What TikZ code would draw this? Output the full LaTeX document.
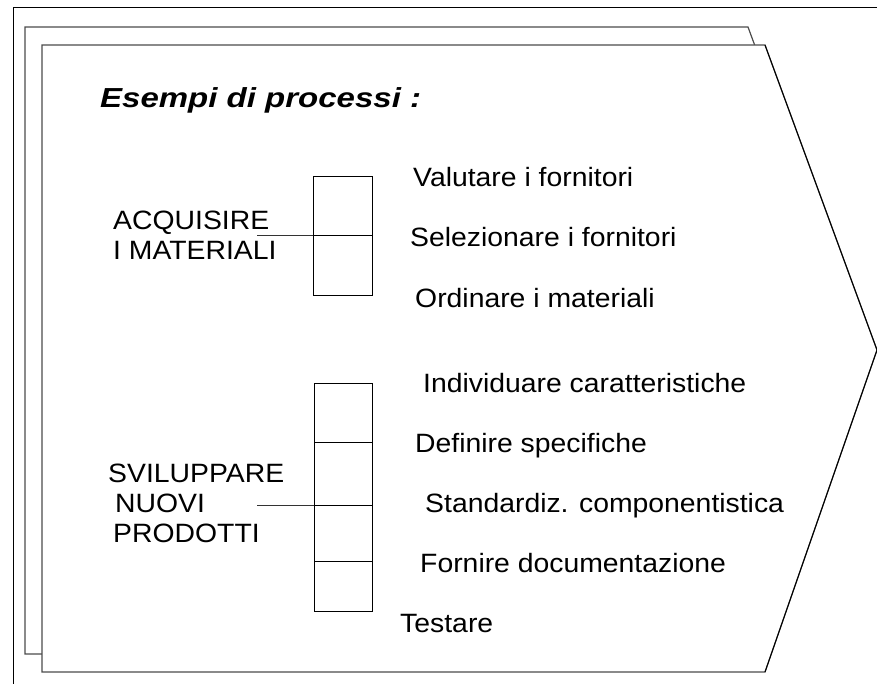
\documentclass[tikz,border=0pt]{standalone}
\usepackage{fontspec}
\setmainfont{Liberation Sans}[FakeStretch=1.07]
\newfontfamily\headfont{Liberation Sans}[FakeStretch=1.2]
\begin{document}
\begin{tikzpicture}[x=1pt,y=-1pt,
  frame/.style={draw=black, line width=1pt},
  page/.style={draw=black!70, line width=1.2pt, fill=white, line join=miter},
  cell/.style={draw=black, line width=0.9pt},
  link/.style={draw=black!80, line width=0.9pt},
  item/.style={anchor=base west, inner sep=0pt, font=\fontsize{26.5}{30}\selectfont},
  title/.style={anchor=base west, inner sep=0pt, font=\headfont\bfseries\itshape\fontsize{27.5}{30}\selectfont}]
\useasboundingbox (0,0) rectangle (877,684);
\fill[white] (0,0) rectangle (877,684);

% outer frame
\draw[frame] (13,684) -- (13,8) -- (877,8);

% back sheet
\draw[page] (25,27) -- (748,27) -- (860,332) -- (748,654) -- (25,654) -- cycle;
% front sheet (arrow shaped)
\draw[page] (42,45) -- (765,45) -- (877,350) -- (765,672) -- (42,672) -- cycle;
\draw[black, line width=1pt] (765,45) -- (877,350) -- (765,672);

% title
\node[title] (head) at (100,108) {Esempi di processi :};

% first process
\node[item] (acq1) at (113,230) {ACQUISIRE};
\node[item] (acq2) at (113,260) {I MATERIALI};
\coordinate (acqend) at (257,235);
\draw[cell] (313,176) rectangle (372,295);
\coordinate (boxA) at (313,235);
\draw[cell] (313,235) -- (372,235);
\draw[link] (acqend) -- (boxA);
\node[item] (a1) at (413,187) {Valutare i fornitori};
\node[item] (a2) at (410,247) {Selezionare i fornitori};
\node[item] (a3) at (415,307) {Ordinare i materiali};

% second process
\node[item] (svi1) at (108,482) {SVILUPPARE};
\node[item] (svi2) at (115,512) {NUOVI};
\node[item] (svi3) at (113,542) {PRODOTTI};
\coordinate (sviend) at (257,505);
\draw[cell] (314,383) rectangle (372,611);
\draw[cell] (314,442) -- (372,442);
\draw[cell] (314,505) -- (372,505);
\draw[cell] (314,561) -- (372,561);
\coordinate (boxB) at (314,505);
\draw[link] (sviend) -- (boxB);
\node[item] (b1) at (423,392) {Individuare caratteristiche};
\node[item] (b2) at (415,452) {Definire specifiche};
\node[item] (b3) at (425,512) {Standardiz. componentistica};
\node[item] (b4) at (420,572) {Fornire documentazione};
\node[item] (b5) at (400,632) {Testare};
\end{tikzpicture}
\end{document}
